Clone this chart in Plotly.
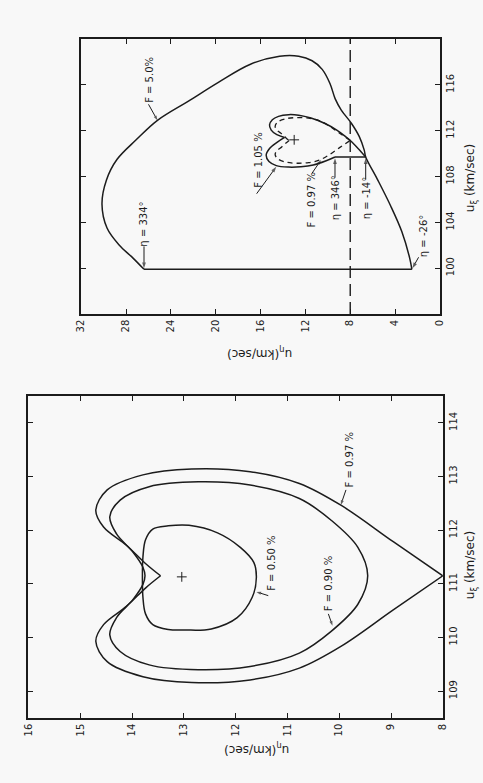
import plotly.graph_objects as go

# ---------------- data (u_eta, u_xi in km/sec) ----------------
# upper panel: F = 5.0 % boundary, from eta = 334 deg round to eta = -26 deg
ETA_F50 = [26.4, 27.4, 28.6, 29.7, 30.15, 29.75, 28.8, 27.1, 25.2, 22.4, 19.8, 16.9,
           14.3, 12.6, 11.4, 10.5, 9.8, 9.35, 8.8, 7.9, 7.2, 6.75, 6.62, 5.6, 4.4,
           3.4, 2.7, 2.5]
XI_F50 = [99.9, 100.9, 102.0, 103.5, 105.6, 107.7, 109.5, 111.2, 112.9, 114.6, 116.2,
          117.8, 118.5, 118.5, 118.1, 117.35, 116.1, 114.8, 113.8, 112.65, 111.5,
          110.3, 109.7, 107.8, 105.45, 103.2, 100.9, 99.9]

# upper panel: F = 1.05 % boundary, from eta = -14 deg round to eta = 346 deg
ETA_F105 = [6.62, 7.3, 7.95, 8.5, 9.2, 10.2, 11.5, 12.6, 13.5, 14.4, 14.95, 15.2, 15.05,
            14.55, 13.86, 14.5, 15.2, 15.5, 15.25, 14.6, 13.5, 12.4, 11.3, 10.2, 9.36]
XI_F105 = [109.7, 110.45, 111.1, 111.55, 112.05, 112.6, 113.1, 113.35, 113.4, 113.25,
           112.95, 112.5, 112.05, 111.65, 111.41, 111.0, 110.45, 109.85, 109.3, 108.95,
           108.82, 108.85, 109.0, 109.35, 109.7]

# F = 0.97 % boundary (cusp at u_eta = 8)
ETA_F097 = [8.0, 8.95, 9.96, 10.77, 11.72, 12.85, 13.79, 14.48, 14.70, 14.55, 14.11,
            13.73, 13.45, 13.73, 14.11, 14.55, 14.70, 14.48, 13.79, 12.85, 11.72, 10.77,
            9.96, 8.95, 8.0]
XI_F097 = [111.15, 111.78, 112.46, 112.87, 113.09, 113.14, 113.03, 112.75, 112.37,
           112.06, 111.72, 111.37, 111.15, 110.93, 110.58, 110.24, 109.93, 109.55,
           109.27, 109.16, 109.21, 109.43, 109.84, 110.52, 111.15]

# F = 0.90 % boundary (starts at the notch)
ETA_F090 = [13.75, 13.79, 13.98, 14.30, 14.43, 14.23, 13.67, 12.72, 11.72, 10.77, 10.15,
            9.64, 9.45, 9.64, 10.15, 10.77, 11.72, 12.72, 13.67, 14.23, 14.43, 14.30,
            13.98, 13.79, 13.75]
XI_F090 = [111.15, 111.31, 111.59, 111.93, 112.25, 112.56, 112.81, 112.90, 112.84,
           112.59, 112.18, 111.68, 111.15, 110.62, 110.12, 109.71, 109.46, 109.40,
           109.49, 109.74, 110.05, 110.37, 110.71, 110.99, 111.15]

# F = 0.50 % boundary
ETA_F050 = [13.80, 13.79, 13.74, 13.60, 13.30, 12.90, 12.35, 11.91, 11.65, 11.60, 11.68,
            11.97, 12.47, 12.98, 13.30, 13.60, 13.74, 13.79, 13.80]
XI_F050 = [111.12, 111.50, 111.82, 112.02, 112.08, 112.09, 111.95, 111.68, 111.40,
           111.12, 110.75, 110.37, 110.16, 110.14, 110.15, 110.24, 110.44, 110.75, 111.12]

# centre points (+)
CENTER_TOP = (13.0, 111.2)
CENTER_BOTTOM = (13.04, 111.13)

# reference line u_eta = 8 km/sec
ETA_REF = 8.0

ETA_TICKS_TOP = [0, 4, 8, 12, 16, 20, 24, 28, 32]
XI_TICKS_TOP = [100, 104, 108, 112, 116]
ETA_TICKS_BOTTOM = [8, 9, 10, 11, 12, 13, 14, 15, 16]
XI_TICKS_BOTTOM = [109, 110, 111, 112, 113, 114]

# ---------------- figure ----------------
W, H = 483, 783
INK = "#1c1c1c"
BG = "#f8f8f8"
FONT = "DejaVu Sans"

fig = go.Figure()


def add_curve(eta, xi, xa, ya, corners=(), dash="solid", width=1.5):
    """Draw a smooth curve, keeping sharp corners at the given point indices."""
    cuts = [0] + sorted(corners) + [len(eta) - 1]
    for a, b in zip(cuts[:-1], cuts[1:]):
        fig.add_trace(go.Scatter(
            x=eta[a:b + 1], y=xi[a:b + 1], mode="lines",
            line=dict(shape="spline", smoothing=1.0, color=INK, width=width, dash=dash),
            xaxis=xa, yaxis=ya, hoverinfo="skip", showlegend=False))


def add_segment(eta, xi, xa, ya, dash="solid", width=1.5):
    fig.add_trace(go.Scatter(
        x=eta, y=xi, mode="lines", line=dict(color=INK, width=width, dash=dash),
        xaxis=xa, yaxis=ya, hoverinfo="skip", showlegend=False))


def pointer(tail, head, xa, ya, size=6):
    """Leader line from a label to a point on a curve, with a small arrowhead."""
    fig.add_trace(go.Scatter(
        x=[tail[0], head[0]], y=[tail[1], head[1]], mode="lines+markers",
        line=dict(color=INK, width=1),
        marker=dict(symbol=["circle", "arrow"], size=[0, size], angleref="previous",
                    color=INK, line=dict(width=0)),
        xaxis=xa, yaxis=ya, hoverinfo="skip", showlegend=False))


# upper panel
add_segment([ETA_REF, ETA_REF], [96, 120], "x", "y", dash="12px,6px", width=1.4)
add_curve(ETA_F50, XI_F50, "x", "y")
add_segment([ETA_F50[-1], ETA_F50[0]], [XI_F50[-1], XI_F50[0]], "x", "y")
add_curve(ETA_F105, XI_F105, "x", "y", corners=(14,))
add_segment([ETA_F105[-1], ETA_F105[0]], [XI_F105[-1], XI_F105[0]], "x", "y")
add_curve(ETA_F097, XI_F097, "x", "y", corners=(12,), dash="5px,4px", width=1.3)

# lower panel
add_curve(ETA_F097, XI_F097, "x2", "y2", corners=(12,))
add_curve(ETA_F090, XI_F090, "x2", "y2")
add_curve(ETA_F050, XI_F050, "x2", "y2")

for (ce, cx), xa, ya in [(CENTER_TOP, "x", "y"), (CENTER_BOTTOM, "x2", "y2")]:
    fig.add_trace(go.Scatter(
        x=[ce], y=[cx], mode="markers", xaxis=xa, yaxis=ya,
        marker=dict(symbol="cross-thin", size=7, line=dict(width=1, color=INK)),
        hoverinfo="skip", showlegend=False))

# leaders and arrows
pointer((26.0, 114.3), (25.2, 112.9), "x", "y", 5)
pointer((26.4, 101.9), (26.4, 100.0), "x", "y")
pointer((1.9, 100.95), (2.45, 100.0), "x", "y")
pointer((16.35, 106.5), (14.6, 108.85), "x", "y")
pointer((11.4, 108.3), (10.6, 109.45), "x", "y", 5)
pointer((9.36, 107.9), (9.36, 109.6), "x", "y")
pointer((6.62, 107.75), (6.62, 109.6), "x", "y")
pointer((9.87, 112.75), (9.97, 112.47), "x2", "y2", 5)
pointer((11.37, 110.78), (11.6, 110.85), "x2", "y2", 5)
pointer((10.21, 110.44), (10.13, 110.22), "x2", "y2", 5)

tickfont = dict(family=FONT, size=10, color=INK)


def axis(domain, rng, ticks, **kw):
    d = dict(domain=domain, range=rng, tickvals=ticks, ticks="inside", ticklen=5,
             tickwidth=1.2, tickcolor=INK, showline=True, linecolor=INK, linewidth=1.5,
             mirror="ticks", showgrid=False, zeroline=False, tickangle=-90,
             tickfont=tickfont)
    d.update(kw)
    return d


fig.update_layout(
    width=W, height=H, margin=dict(l=0, r=0, t=0, b=0),
    paper_bgcolor=BG, plot_bgcolor=BG, showlegend=False,
    xaxis=axis([77 / W, 444 / W], [32, 0], ETA_TICKS_TOP, anchor="y"),
    yaxis=axis([1 - 314 / H, 1 - 39 / H], [96, 120], XI_TICKS_TOP, anchor="x", side="right"),
    xaxis2=axis([23 / W, 447 / W], [16, 8], ETA_TICKS_BOTTOM, anchor="y2"),
    yaxis2=axis([1 - 718 / H, 1 - 396 / H], [108.5, 114.5], XI_TICKS_BOTTOM, anchor="x2",
                side="right"),
)

label_font = dict(family=FONT, size=10, color=INK)
title_font = dict(family=FONT, size=12, color=INK)


def label(text, eta, xi, xa, ya):
    fig.add_annotation(text=text, x=eta, y=xi, xref=xa, yref=ya, showarrow=False,
                       textangle=-90, font=label_font, xanchor="center", yanchor="middle")


# upper panel labels
label("F = 5.0%", 25.9, 116.4, "x", "y")
label("η = 334°", 26.4, 103.8, "x", "y")
label("η = -26°", 1.5, 102.8, "x", "y")
label("F = 1.05 %", 16.2, 109.4, "x", "y")
label("F = 0.97 %", 11.5, 106.0, "x", "y")
label("η = 346°", 9.35, 106.1, "x", "y")
label("η = -14°", 6.6, 106.1, "x", "y")

# lower panel labels
label("F = 0.97 %", 9.80, 113.31, "x2", "y2")
label("F = 0.50 %", 11.31, 111.38, "x2", "y2")
label("F = 0.90 %", 10.21, 111.0, "x2", "y2")

# axis titles
for ypx in (178, 565):
    fig.add_annotation(text="u<sub>ξ</sub> (km/sec)", x=476 / W, y=1 - ypx / H,
                       xref="paper", yref="paper", showarrow=False, textangle=-90,
                       font=title_font, xanchor="center", yanchor="middle")
for xpx, ypx in ((260, 353), (257, 749)):
    fig.add_annotation(text="u<sub>η</sub>(km/sec)", x=xpx / W, y=1 - ypx / H,
                       xref="paper", yref="paper", showarrow=False, textangle=180,
                       font=title_font, xanchor="center", yanchor="middle")

fig.write_html("out.html")
